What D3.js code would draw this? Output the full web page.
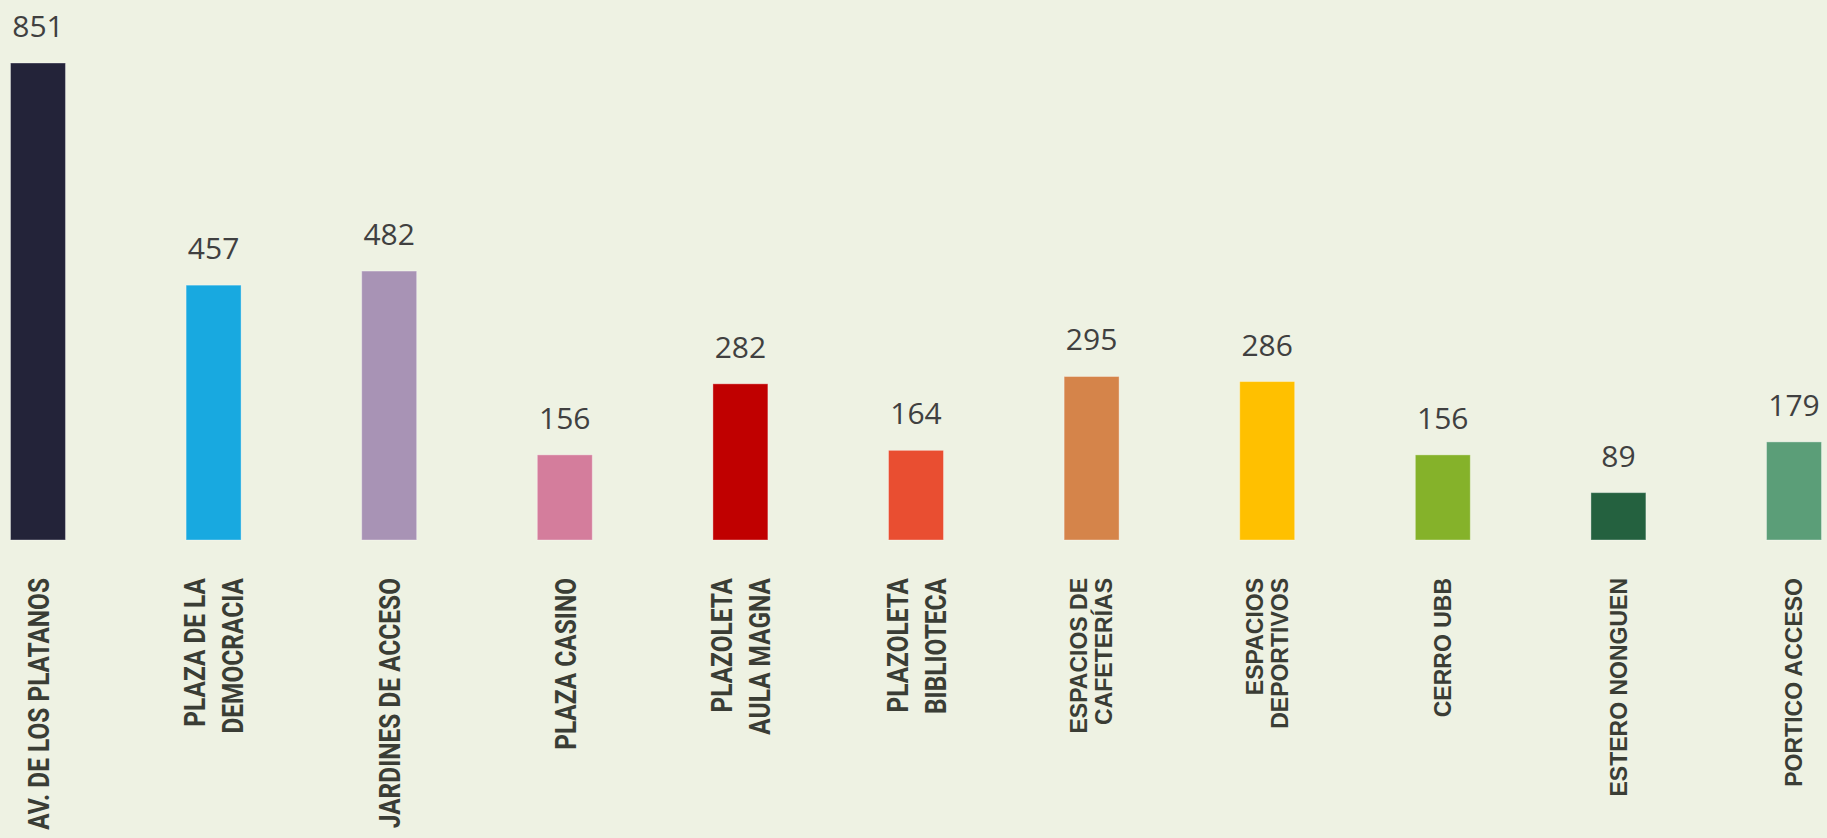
<!DOCTYPE html>
<html>
<head>
<meta charset="utf-8">
<script src="https://cdn.jsdelivr.net/npm/d3@7"></script>
<style>
  html, body { margin: 0; padding: 0; background: #eef2e3; }
  svg { display: block; }
</style>
</head>
<body>
<svg id="chart" width="1827" height="838"></svg>
<script>
const categories = [
  ["AV. DE LOS PLATANOS"],
  ["PLAZA DE LA", "DEMOCRACIA"],
  ["JARDINES DE ACCESO"],
  ["PLAZA CASINO"],
  ["PLAZOLETA", "AULA MAGNA"],
  ["PLAZOLETA", "BIBLIOTECA"],
  ["ESPACIOS DE", "CAFETERÍAS"],
  ["ESPACIOS", "DEPORTIVOS"],
  ["CERRO UBB"],
  ["ESTERO NONGUEN"],
  ["PORTICO ACCESO"]
];
const values = [851, 457, 482, 156, 282, 164, 295, 286, 156, 89, 179];
const colors = ["#232339", "#18a9e0", "#a893b5", "#d47d9c", "#c00000", "#e94e31",
                "#d5844a", "#ffc000", "#85b22a", "#24613f", "#5b9e78"];

const W = 1827, H = 838;
const svg = d3.select("#chart");
svg.append("rect").attr("width", W).attr("height", H).attr("fill", "#eef2e3");

const keys = categories.map(c => c.join(" "));
const x = d3.scaleBand().domain(keys).range([10.5, 1821.5]).paddingInner(0.687).paddingOuter(0);
const y = d3.scaleLinear().domain([5, 851]).range([540, 63]);

const g = svg.append("g");

g.selectAll("rect.bar").data(values).join("rect")
  .attr("class", "bar")
  .attr("x", (d, i) => x(keys[i]))
  .attr("width", x.bandwidth())
  .attr("y", d => y(d))
  .attr("height", d => y(5) - y(d))
  .attr("fill", (d, i) => colors[i])
  .attr("stroke", "rgba(255,255,255,0.35)")
  .attr("stroke-width", 1);

g.selectAll("text.val").data(values).join("text")
  .attr("class", "val")
  .attr("x", (d, i) => x(keys[i]) + x.bandwidth() / 2)
  .attr("y", d => y(d) - 26)
  .attr("text-anchor", "middle")
  .attr("font-family", "'Open Sans', sans-serif")
  .attr("font-size", 30)
  .attr("fill", "#404040")
  .text(d => d);

const labelTop = 578;
categories.forEach((lines, i) => {
  const cx = x(keys[i]) + x.bandwidth() / 2;
  const condensed = i < 6;
  const fs = condensed ? 30 : 23;
  const capH = condensed ? 21.7 : 16.2;
  const spacing = condensed ? 38 : 24.6;
  const sx = condensed ? 0.815 : 1;
  const lg = g.append("g")
    .attr("transform", `translate(${cx},${labelTop}) rotate(-90) scale(${sx},1)`);
  lines.forEach((ln, j) => {
    const off = (j - (lines.length - 1) / 2) * spacing + capH / 2;
    lg.append("text")
      .attr("x", 0)
      .attr("y", off)
      .attr("text-anchor", "end")
      .attr("font-family", condensed ? "Roboto, sans-serif" : "'Liberation Sans', Arial, sans-serif")
      .attr("font-weight", "bold")
      .attr("font-size", fs)
      .attr("fill", "#3a3d35")
      .text(ln);
  });
});
</script>
</body>
</html>
